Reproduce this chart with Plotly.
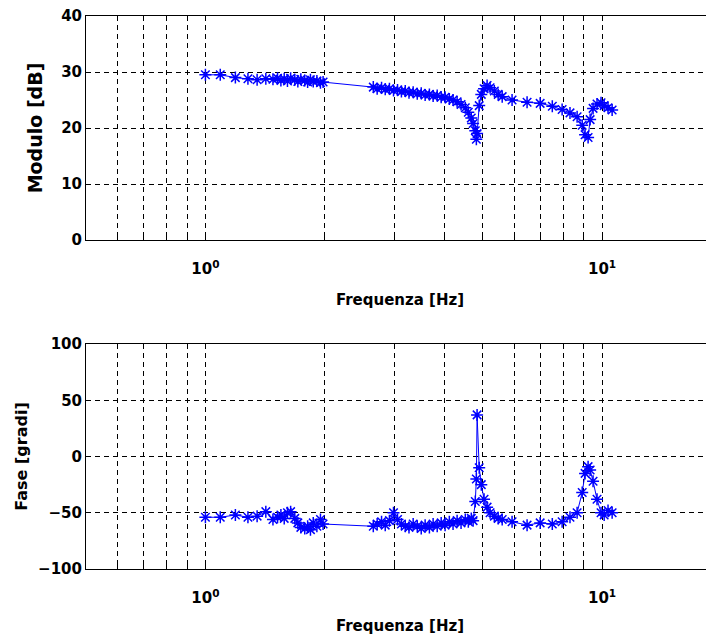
import math
import plotly.graph_objects as go

# ---------------- data ----------------
freq_hz = [
    1.00, 1.09, 1.19, 1.28, 1.35, 1.42,
    1.48, 1.52, 1.55, 1.58, 1.61, 1.64, 1.68, 1.71, 1.74, 1.78, 1.81, 1.84, 1.87, 1.91, 1.95, 1.98,
    2.65, 2.71, 2.78, 2.84, 2.91, 2.98, 3.05, 3.12, 3.19, 3.26, 3.34, 3.42, 3.50, 3.58, 3.67, 3.75,
    3.84, 3.93, 4.02, 4.12, 4.21, 4.31, 4.41, 4.52, 4.60, 4.68, 4.73, 4.79, 4.82, 4.84,
    4.90, 4.96, 5.04, 5.13, 5.22, 5.35, 5.47, 5.60,
    5.93, 6.47, 6.98, 7.49, 7.93, 8.30, 8.65, 8.91, 9.06, 9.22, 9.33, 9.49, 9.71, 9.94, 10.12, 10.35, 10.60,
]
modulo_db = [
    29.5, 29.5, 29.0, 28.8, 28.6, 28.8,
    28.7, 28.9, 28.5, 28.8, 28.4, 28.9, 28.6, 28.3, 28.7, 28.5, 28.2, 28.6, 28.3, 28.4, 28.1, 28.2,
    27.3, 27.0, 27.2, 26.9, 27.0, 26.7, 26.8, 26.5, 26.6, 26.3, 26.4, 26.1, 26.2, 25.9, 26.0, 25.7,
    25.8, 25.5, 25.5, 25.2, 25.0, 24.7, 24.2, 23.6, 22.8, 21.8, 20.8, 19.5, 18.0, 19.0,
    24.0, 26.0, 27.0, 27.6, 27.2, 26.6, 26.0, 25.6,
    25.0, 24.6, 24.4, 23.9, 23.3, 22.7, 22.0, 20.5, 18.8, 18.3, 21.5, 23.5, 24.3, 24.5, 24.0, 23.6, 23.2,
]
fase_gradi = [
    -54, -54, -52, -54, -53, -49,
    -56, -54, -52, -55, -50, -49, -55, -59, -63, -64, -62, -65, -59, -62, -56, -60,
    -62, -60, -58, -61, -57, -50, -56, -60, -62, -63, -60, -62, -64, -61, -63, -60,
    -62, -59, -61, -58, -60, -57, -59, -56, -58, -55, -57, -40, -20, 37,
    -10, -25, -38, -45, -50, -53, -55, -56,
    -58, -61, -59, -60, -58, -54, -50, -32, -15, -9, -12, -22, -38, -50, -52, -48, -50,
]

x_tick_vals = [0.6, 0.7, 0.8, 0.9, 1, 2, 3, 4, 5, 6, 7, 8, 9, 10]
x_tick_text = ["", "", "", "", "10<sup>0</sup>", "", "", "", "", "", "", "", "", "10<sup>1</sup>"]
mod_ticks = [0, 10, 20, 30, 40]
fase_ticks = [-100, -50, 0, 50, 100]

# ---------------- figure ----------------
# page body has an 8px margin, so the figure is 8px smaller than the window
W, H = 706, 631
OFF = 8
BLUE = "#0000ff"
FONT = "DejaVu Sans"

fig = go.Figure()
for yax, vals in (("y", modulo_db), ("y2", fase_gradi)):
    fig.add_trace(go.Scatter(
        x=freq_hz, y=vals, xaxis="x" if yax == "y" else "x2", yaxis=yax,
        mode="lines+markers",
        line=dict(color=BLUE, width=1),
        marker=dict(symbol="asterisk-open", size=10, color=BLUE,
                    line=dict(color=BLUE, width=1.5)),
        showlegend=False, hoverinfo="skip",
    ))

tickfont = dict(family=FONT, size=15, color="black", weight="bold")
xr = [math.log10(0.5), (714 - 205) / 397.0]

def xaxis_common(anchor, stand):
    return dict(
        anchor=anchor, domain=[(86 - OFF) / W, 1.0], type="log", range=xr,
        tickmode="array", tickvals=x_tick_vals, ticktext=x_tick_text,
        ticks="inside", ticklen=4, tickcolor="black", tickwidth=1,
        showline=True, linecolor="black", linewidth=1, mirror="ticks",
        showgrid=True, gridcolor="black", gridwidth=1, griddash="5px,4px",
        zeroline=False, tickfont=tickfont, automargin=False,
        ticklabelstandoff=15, ticklabeloverflow="allow",
        title=dict(text="Frequenza [Hz]", standoff=stand,
                   font=dict(family=FONT, size=15, color="black", weight="bold")),
    )

def yaxis_common(anchor, top_px, bot_px, rng, tv, title, tsize, stand):
    return dict(
        anchor=anchor, domain=[1 - (bot_px - OFF) / H, 1 - (top_px - OFF) / H], range=rng,
        tickmode="array", tickvals=tv,
        ticks="inside", ticklen=4, tickcolor="black", tickwidth=1,
        showline=True, linecolor="black", linewidth=1, mirror=False,
        showgrid=True, gridcolor="black", gridwidth=1, griddash="5px,4px",
        zeroline=False, tickfont=tickfont, automargin=False,
        ticklabeloverflow="allow",
        title=dict(text=title, standoff=stand,
                   font=dict(family=FONT, size=tsize, color="black", weight="bold")),
    )

fig.update_layout(
    width=W, height=H,
    margin=dict(l=0, r=0, t=0, b=0),
    paper_bgcolor="white", plot_bgcolor="white",
    template="none",
    xaxis=xaxis_common("y", 17),
    yaxis=yaxis_common("x", 16, 240, [0, 40], mod_ticks, "Modulo [dB]", 19, 13),
    xaxis2=xaxis_common("y2", 14),
    yaxis2=yaxis_common("x2", 344, 569, [-100, 100], fase_ticks, "Fase [gradi]", 16, 6),
)

fig.write_html("out.html")
